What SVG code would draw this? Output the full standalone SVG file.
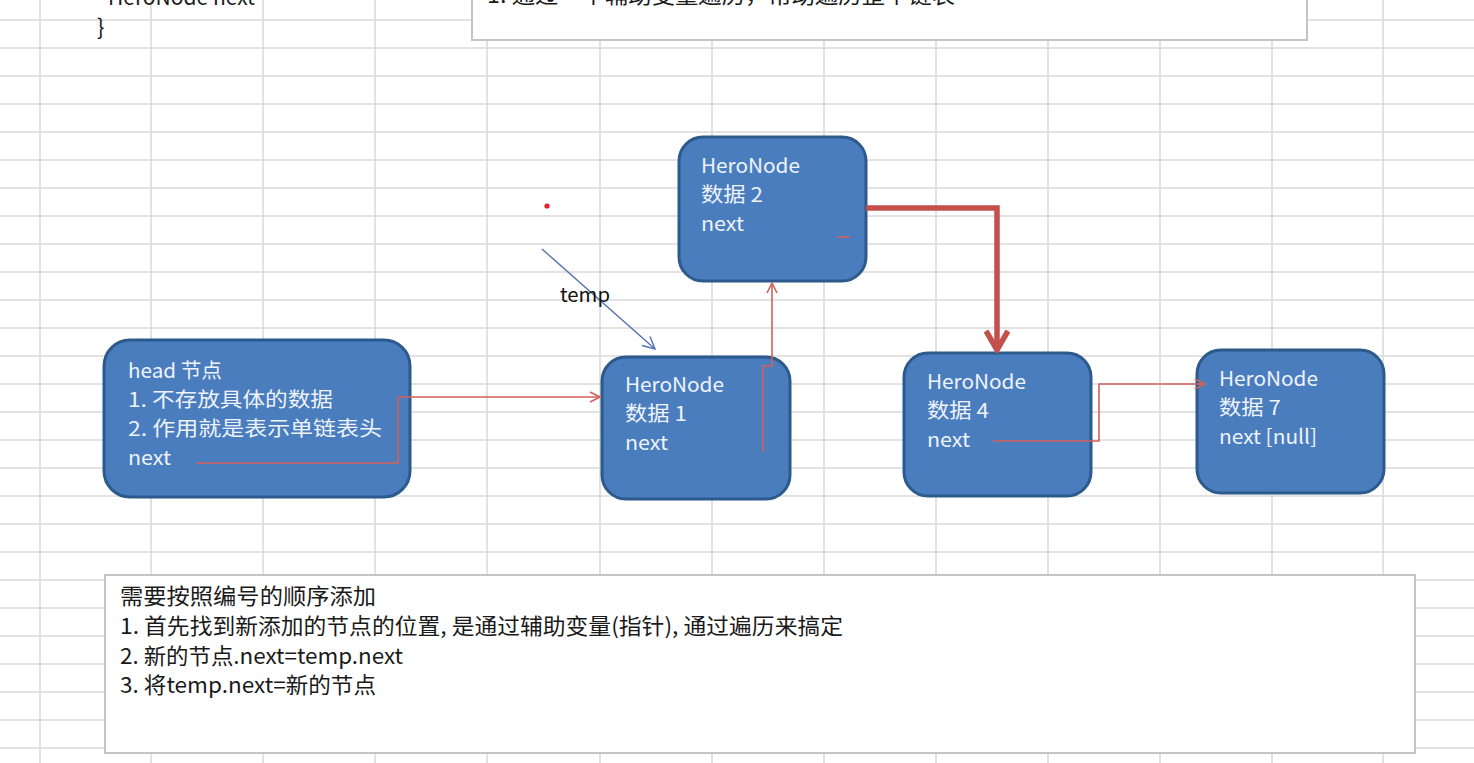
<svg xmlns="http://www.w3.org/2000/svg" width="1474" height="763" viewBox="0 0 1474 763">
<style>
.grid line{stroke:#dadada;stroke-width:1.6}
.node rect{fill:#4a7dbe;stroke:#2d5a8c;stroke-width:3}
.nt{font-family:"Noto Sans CJK SC","Noto Sans",sans-serif;font-size:20px;fill:#eef3fa}
.bt{font-family:"Noto Sans CJK SC","Noto Sans",sans-serif;font-size:22px;fill:#1a1a1a}
.thin{fill:none;stroke:#d4605a;stroke-width:1.6}
.thick{fill:none;stroke:#c4504b;stroke-width:5.5}
.box{fill:#ffffff;stroke:#c4c4c4;stroke-width:2}
</style>
<defs>
<marker id="ah" viewBox="0 0 12 12" refX="11" refY="6" markerWidth="12" markerHeight="12" markerUnits="userSpaceOnUse" orient="auto">
<path d="M1,1 L11,6 L1,11" fill="none" stroke="#d4605a" stroke-width="1.6"/>
</marker>
<marker id="ahb" viewBox="0 0 14 14" refX="13" refY="7" markerWidth="14" markerHeight="14" markerUnits="userSpaceOnUse" orient="auto">
<path d="M1,1 L13,7 L1,13" fill="none" stroke="#5570b0" stroke-width="1.4"/>
</marker>
<marker id="aht" viewBox="0 0 24 26" refX="21" refY="13" markerWidth="24" markerHeight="26" markerUnits="userSpaceOnUse" orient="auto">
<path d="M2,2 L21,13 L2,24" fill="none" stroke="#c4504b" stroke-width="5.5"/>
</marker>
</defs>
<rect width="1474" height="763" fill="#ffffff"/>
<g class="grid">
<line x1="40" y1="0" x2="40" y2="763"/><line x1="151" y1="0" x2="151" y2="763"/><line x1="263" y1="0" x2="263" y2="763"/><line x1="375" y1="0" x2="375" y2="763"/><line x1="487" y1="0" x2="487" y2="763"/><line x1="600" y1="0" x2="600" y2="763"/><line x1="712" y1="0" x2="712" y2="763"/><line x1="824" y1="0" x2="824" y2="763"/><line x1="936" y1="0" x2="936" y2="763"/><line x1="1048" y1="0" x2="1048" y2="763"/><line x1="1160" y1="0" x2="1160" y2="763"/><line x1="1272" y1="0" x2="1272" y2="763"/><line x1="1383" y1="0" x2="1383" y2="763"/>
<line x1="0" y1="20" x2="1474" y2="20"/><line x1="0" y1="48" x2="1474" y2="48"/><line x1="0" y1="76" x2="1474" y2="76"/><line x1="0" y1="104" x2="1474" y2="104"/><line x1="0" y1="132" x2="1474" y2="132"/><line x1="0" y1="160" x2="1474" y2="160"/><line x1="0" y1="188" x2="1474" y2="188"/><line x1="0" y1="216" x2="1474" y2="216"/><line x1="0" y1="244" x2="1474" y2="244"/><line x1="0" y1="272" x2="1474" y2="272"/><line x1="0" y1="300" x2="1474" y2="300"/><line x1="0" y1="328" x2="1474" y2="328"/><line x1="0" y1="356" x2="1474" y2="356"/><line x1="0" y1="384" x2="1474" y2="384"/><line x1="0" y1="412" x2="1474" y2="412"/><line x1="0" y1="440" x2="1474" y2="440"/><line x1="0" y1="468" x2="1474" y2="468"/><line x1="0" y1="496" x2="1474" y2="496"/><line x1="0" y1="524" x2="1474" y2="524"/><line x1="0" y1="552" x2="1474" y2="552"/><line x1="0" y1="580" x2="1474" y2="580"/><line x1="0" y1="608" x2="1474" y2="608"/><line x1="0" y1="636" x2="1474" y2="636"/><line x1="0" y1="664" x2="1474" y2="664"/><line x1="0" y1="692" x2="1474" y2="692"/><line x1="0" y1="720" x2="1474" y2="720"/><line x1="0" y1="748" x2="1474" y2="748"/>
</g>
<g id="code-snippet">
<text class="bt" x="108" y="5" textLength="147" lengthAdjust="spacingAndGlyphs">HeroNode next</text>
<text class="bt" x="97" y="35">}</text>
</g>
<g id="top-note">
<rect class="box" x="472" y="-4" width="835" height="44"/>
<text class="bt" x="487" y="3" textLength="468" lengthAdjust="spacingAndGlyphs">1. 通过一个辅助变量遍历，帮助遍历整个链表</text>
</g>
<g id="head" class="node">
<rect x="104" y="340" width="306" height="157" rx="26"/>
<text class="nt" x="128" y="378" textLength="94" lengthAdjust="spacingAndGlyphs">head 节点</text>
<text class="nt" x="128" y="407" textLength="205" lengthAdjust="spacingAndGlyphs">1. 不存放具体的数据</text>
<text class="nt" x="128" y="436" textLength="254" lengthAdjust="spacingAndGlyphs">2. 作用就是表示单链表头</text>
<text class="nt" x="128" y="465" textLength="43" lengthAdjust="spacingAndGlyphs">next</text>
</g>
<g id="node1" class="node">
<rect x="602" y="357" width="188" height="142" rx="24"/>
<text class="nt" x="625" y="392" textLength="99" lengthAdjust="spacingAndGlyphs">HeroNode</text>
<text class="nt" x="625" y="421" textLength="62" lengthAdjust="spacingAndGlyphs">数据 1</text>
<text class="nt" x="625" y="450" textLength="43" lengthAdjust="spacingAndGlyphs">next</text>
</g>
<g id="node2" class="node">
<rect x="679" y="137" width="187" height="144" rx="24"/>
<text class="nt" x="701" y="173" textLength="99" lengthAdjust="spacingAndGlyphs">HeroNode</text>
<text class="nt" x="701" y="202" textLength="62" lengthAdjust="spacingAndGlyphs">数据 2</text>
<text class="nt" x="701" y="231" textLength="43" lengthAdjust="spacingAndGlyphs">next</text>
</g>
<g id="node4" class="node">
<rect x="904" y="353" width="187" height="143" rx="24"/>
<text class="nt" x="927" y="389" textLength="99" lengthAdjust="spacingAndGlyphs">HeroNode</text>
<text class="nt" x="927" y="418" textLength="62" lengthAdjust="spacingAndGlyphs">数据 4</text>
<text class="nt" x="927" y="447" textLength="43" lengthAdjust="spacingAndGlyphs">next</text>
</g>
<g id="node7" class="node">
<rect x="1197" y="350" width="187" height="143" rx="24"/>
<text class="nt" x="1219" y="386" textLength="99" lengthAdjust="spacingAndGlyphs">HeroNode</text>
<text class="nt" x="1219" y="415" textLength="62" lengthAdjust="spacingAndGlyphs">数据 7</text>
<text class="nt" x="1219" y="444" textLength="98" lengthAdjust="spacingAndGlyphs">next [null]</text>
</g>
<g id="connectors">
<polyline class="thin" points="196,463 398,463 398,397 600,397" marker-end="url(#ah)"/>
<polyline class="thin" points="763,452 763,366 772,366 772,283" marker-end="url(#ah)"/>
<line class="thin" x1="837" y1="237" x2="850" y2="237"/>
<polyline class="thick" points="866,208 997,208 997,350" marker-end="url(#aht)"/>
<polyline class="thin" points="993,441 1099,441 1099,384 1205,384" marker-end="url(#ah)"/>
<line x1="542" y1="249" x2="655" y2="349" stroke="#5570b0" stroke-width="1.4" marker-end="url(#ahb)"/>
<text x="560" y="302" font-family="Noto Sans CJK SC, Noto Sans, sans-serif" font-size="19" fill="#111" textLength="50" lengthAdjust="spacingAndGlyphs">temp</text>
</g>
<circle cx="547" cy="206" r="2.6" fill="#e8202a"/>
<g id="bottom-note">
<rect class="box" x="105" y="575" width="1310" height="178"/>
<text class="bt" x="120" y="604" textLength="256" lengthAdjust="spacingAndGlyphs">需要按照编号的顺序添加</text>
<text class="bt" x="120" y="634" textLength="723" lengthAdjust="spacingAndGlyphs">1. 首先找到新添加的节点的位置, 是通过辅助变量(指针), 通过遍历来搞定</text>
<text class="bt" x="120" y="664" textLength="283" lengthAdjust="spacingAndGlyphs">2. 新的节点.next=temp.next</text>
<text class="bt" x="120" y="693" textLength="256" lengthAdjust="spacingAndGlyphs">3. 将temp.next=新的节点</text>
</g>
</svg>
